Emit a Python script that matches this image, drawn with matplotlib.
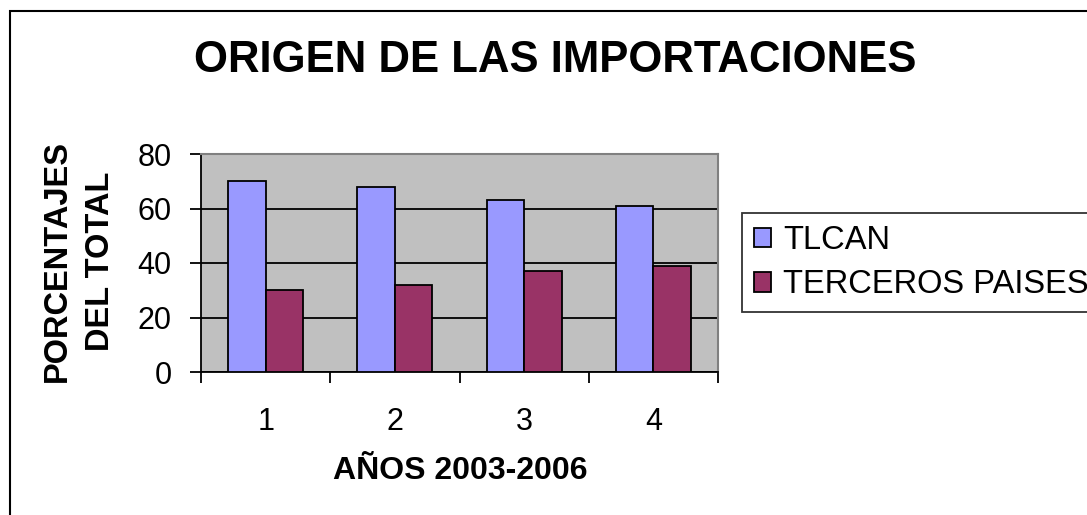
import matplotlib
matplotlib.use("Agg")
import matplotlib.pyplot as plt
import numpy as np
from matplotlib.patches import Rectangle

plt.rcParams['font.family'] = ['Liberation Sans', 'DejaVu Sans']

categories = ['1', '2', '3', '4']
tlcan = [70, 68, 63, 61]
terceros = [30, 32, 37, 39]
series_names = ['TLCAN', 'TERCEROS PAISES']
title = 'ORIGEN DE LAS IMPORTACIONES'
ylabel = 'PORCENTAJES\nDEL TOTAL'
xlabel = 'AÑOS 2003-2006'

W, H = 1087, 515
fig = plt.figure(figsize=(W/100, H/100), dpi=100)

# outer border (extends past right and bottom edges, as in the reference)
fig.patches.append(Rectangle((9.5/W, -20/H), (W + 20)/W, (H - 11 + 20)/H, transform=fig.transFigure,
                             fill=False, edgecolor='black', linewidth=1.5))

ax = fig.add_axes([201/W, 1-372/H, (718-201)/W, (372-154)/H])
ax.set_facecolor('#c0c0c0')
x = np.arange(len(categories))
w = 0.29
ax.bar(x - w/2, tlcan, w, color='#9999ff', edgecolor='black', linewidth=1.3, label=series_names[0], zorder=3)
ax.bar(x + w/2, terceros, w, color='#993366', edgecolor='black', linewidth=1.3, label=series_names[1], zorder=3)
ax.set_xlim(-0.5, 3.5)
ax.set_ylim(0, 80)
ax.set_yticks([0, 20, 40, 60, 80])
ax.yaxis.grid(True, color='black', linewidth=1.3, zorder=1)
ax.set_axisbelow(True)
ax.set_xticks(x)
ax.set_xticklabels(categories)
ax.set_xticks(np.arange(-0.5, 4, 1), minor=True)
ax.tick_params(axis='x', which='major', length=0, pad=25.5, labelsize=22)
ax.tick_params(axis='x', which='minor', length=8, width=1.3, direction='out')
ax.tick_params(axis='y', length=8, width=1.3, labelsize=22, pad=13)
for s in ['left', 'bottom']:
    ax.spines[s].set_linewidth(1.3)
for s in ['top', 'right']:
    ax.spines[s].set_color('#808080')
    ax.spines[s].set_linewidth(1.5)

fig.text(555/W, 1-61/H, title, ha='center', va='center', fontsize=31.5, fontweight='bold')
fig.text(79/W, 1-261/H, ylabel, ha='center', va='center', rotation=90, fontsize=23.5,
         fontweight='bold', linespacing=1.5)
fig.text(460/W, 1-471/H, xlabel, ha='center', va='center', fontsize=23, fontweight='bold')

leg = fig.legend(loc='upper left', bbox_to_anchor=(742/W, 1-213/H), fontsize=23.5,
                 frameon=True, fancybox=False, edgecolor='black', handlelength=0.53,
                 handleheight=0.53, handletextpad=0.36, borderpad=0.36, labelspacing=0.42,
                 borderaxespad=0)
leg.get_frame().set_linewidth(1.3)
for h in leg.legend_handles:
    h.set_linewidth(1.3)

fig.savefig('out.png', dpi=100)
